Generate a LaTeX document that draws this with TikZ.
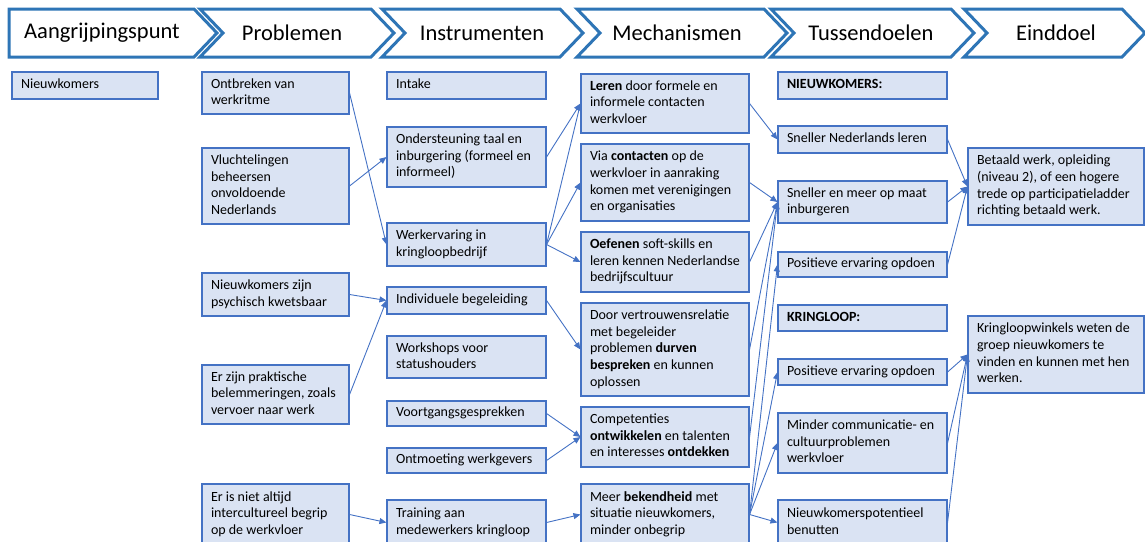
\documentclass[tikz,border=0pt]{standalone}
\usepackage{fontspec}
\setmainfont{Carlito}
\usetikzlibrary{arrows.meta}
\definecolor{boxfill}{HTML}{DAE3F3}
\definecolor{boxline}{HTML}{4472C4}
\definecolor{chevline}{HTML}{2E75B6}
\tikzset{
  bx/.style={draw=boxline, fill=boxfill, line width=1.1pt, inner sep=0pt, rectangle,
    font=\fontsize{14}{16.6}\selectfont},
  chev/.style={draw=chevline, fill=white, line width=3pt, line join=miter},
  headtxt/.style={font=\fontsize{22.5}{26}\selectfont, inner sep=0pt},
  conn/.style={draw=boxline, line width=0.9pt, -{Triangle[length=7pt,width=6pt]}},
}
\newcommand\bxnode[6]{%
  \pgfmathsetmacro\bxw{#4-#2}%
  \pgfmathsetmacro\bxh{#5-#3}%
  \pgfmathsetmacro\bxt{#4-#2-18}%
  \node[bx, minimum width=\bxw pt, minimum height=\bxh pt] (#1) at ({(#2+#4)/2},{(#3+#5)/2})
    {\makebox[\bxt pt][l]{\begin{tabular}{@{}l@{}}#6\end{tabular}}};%
}
\begin{document}
\begin{tikzpicture}[x=1pt,y=-1pt]
\useasboundingbox (0,0) rectangle (1145,541);
\clip (0,0) rectangle (1145,541);
% header chevrons
\draw[chev] (9,9) -- (194,9) -- (217,33) -- (194,57) -- (9,57) -- cycle;
\draw[chev] (200,9) -- (371,9) -- (394,33) -- (371,57) -- (200,57) -- (223,33) -- cycle;
\draw[chev] (382,9) -- (560,9) -- (583,33) -- (560,57) -- (382,57) -- (405,33) -- cycle;
\draw[chev] (577,9) -- (764,9) -- (787,33) -- (764,57) -- (577,57) -- (600,33) -- cycle;
\draw[chev] (771,9) -- (951,9) -- (974,33) -- (951,57) -- (771,57) -- (794,33) -- cycle;
\draw[chev] (964,9) -- (1122,9) -- (1145,33) -- (1122,57) -- (964,57) -- (987,33) -- cycle;
\node[headtxt] (hA) at (102,33) {Aangrijpingspunt};
\node[headtxt] (hP) at (292,33) {Problemen};
\node[headtxt] (hI) at (482,33) {Instrumenten};
\node[headtxt] (hM) at (677,33) {Mechanismen};
\node[headtxt] (hT) at (871,33) {Tussendoelen};
\node[headtxt] (hE) at (1056,33) {Einddoel};
% Aangrijpingspunt
\bxnode{nw}{12}{72}{158}{99}{Nieuwkomers}
% Problemen
\bxnode{p1}{202}{72}{349}{114}{Ontbreken van\\werkritme}
\bxnode{p2}{202}{148}{349}{224}{Vluchtelingen\\beheersen\\onvoldoende\\Nederlands}
\bxnode{p3}{202}{273}{349}{316}{Nieuwkomers zijn\\psychisch kwetsbaar}
\bxnode{p4}{202}{365}{349}{424}{Er zijn praktische\\belemmeringen, zoals\\vervoer naar werk}
\bxnode{p5}{202}{484}{349}{545}{Er is niet altijd\\intercultureel begrip\\op de werkvloer}
% Instrumenten
\bxnode{i1}{387}{72}{546}{99}{Intake}
\bxnode{i2}{387}{127}{546}{187}{Ondersteuning taal en\\inburgering (formeel en\\informeel)}
\bxnode{i3}{387}{223}{546}{266}{Werkervaring in\\kringloopbedrijf}
\bxnode{i4}{387}{287}{546}{314}{Individuele begeleiding}
\bxnode{i5}{387}{336}{546}{378}{Workshops voor\\statushouders}
\bxnode{i6}{387}{401}{546}{426}{Voortgangsgesprekken}
\bxnode{i7}{387}{448}{546}{473}{Ontmoeting werkgevers}
\bxnode{i8}{387}{500}{546}{545}{Training aan\\medewerkers kringloop}
% Mechanismen
\bxnode{m1}{581}{74}{749}{133}{\textbf{Leren} door formele en\\informele contacten\\werkvloer}
\bxnode{m2}{581}{144}{749}{221}{Via \textbf{contacten} op de\\werkvloer in aanraking\\komen met verenigingen\\en organisaties}
\bxnode{m3}{581}{232}{749}{292}{\textbf{Oefenen} soft-skills en\\leren kennen Nederlandse\\bedrijfscultuur}
\bxnode{m4}{581}{303}{749}{396}{Door vertrouwensrelatie\\met begeleider\\problemen \textbf{durven}\\\textbf{bespreken} en kunnen\\oplossen}
\bxnode{m5}{581}{407}{749}{467}{Competenties\\\textbf{ontwikkelen} en talenten\\en interesses \textbf{ontdekken}}
\bxnode{m6}{581}{484}{749}{545}{Meer \textbf{bekendheid} met\\situatie nieuwkomers,\\minder onbegrip}
% Tussendoelen
\bxnode{t1}{778}{72}{947}{99}{\textbf{NIEUWKOMERS:}}
\bxnode{t2}{778}{126}{947}{153}{Sneller Nederlands leren}
\bxnode{t3}{778}{181}{947}{223}{Sneller en meer op maat\\inburgeren}
\bxnode{t4}{778}{252}{947}{277}{Positieve ervaring opdoen}
\bxnode{t5}{778}{305}{947}{331}{\textbf{KRINGLOOP:}}
\bxnode{t6}{778}{359}{947}{385}{Positieve ervaring opdoen}
\bxnode{t7}{778}{413}{947}{473}{Minder communicatie- en\\cultuurproblemen\\werkvloer}
\bxnode{t8}{778}{500}{947}{545}{Nieuwkomerspotentieel\\benutten}
% Einddoel
\bxnode{e1}{968}{148}{1144}{225}{Betaald werk, opleiding\\(niveau 2), of een hogere\\trede op participatieladder\\richting betaald werk.}
\bxnode{e2}{968}{316}{1144}{393}{Kringloopwinkels weten de\\groep nieuwkomers te\\vinden en kunnen met hen\\werken.}
% connectors
\draw[conn] (p1.east) -- (i3.west);
\draw[conn] (p2.east) -- (i2.west);
\draw[conn] (p3.east) -- (i4.west);
\draw[conn] (p4.east) -- (i4.west);
\draw[conn] (p5.east) -- (i8.west);
\draw[conn] (i2.east) -- (m1.west);
\draw[conn] (i3.east) -- (m1.west);
\draw[conn] (i3.east) -- (m2.west);
\draw[conn] (i3.east) -- (m3.west);
\draw[conn] (i4.east) -- (m4.west);
\draw[conn] (i6.east) -- (m5.west);
\draw[conn] (i7.east) -- (m5.west);
\draw[conn] (i8.east) -- (m6.west);
\draw[conn] (m1.east) -- (t2.west);
\draw[conn] (m2.east) -- (t3.west);
\draw[conn] (m3.east) -- (t3.west);
\draw[conn] (m4.east) -- (t3.west);
\draw[conn] (m5.east) -- (t3.west);
\draw[conn] (m6.east) -- (t4.west);
\draw[conn] (m6.east) -- (t6.west);
\draw[conn] (m6.east) -- (t7.west);
\draw[conn] (m6.east) -- (t8.west);
\draw[conn] (t2.east) -- (e1.west);
\draw[conn] (t3.east) -- (e1.west);
\draw[conn] (t4.east) -- (e1.west);
\draw[conn] (t6.east) -- (e2.west);
\draw[conn] (t7.east) -- (e2.west);
\draw[conn] (t8.east) -- (e2.west);
\end{tikzpicture}
\end{document}
